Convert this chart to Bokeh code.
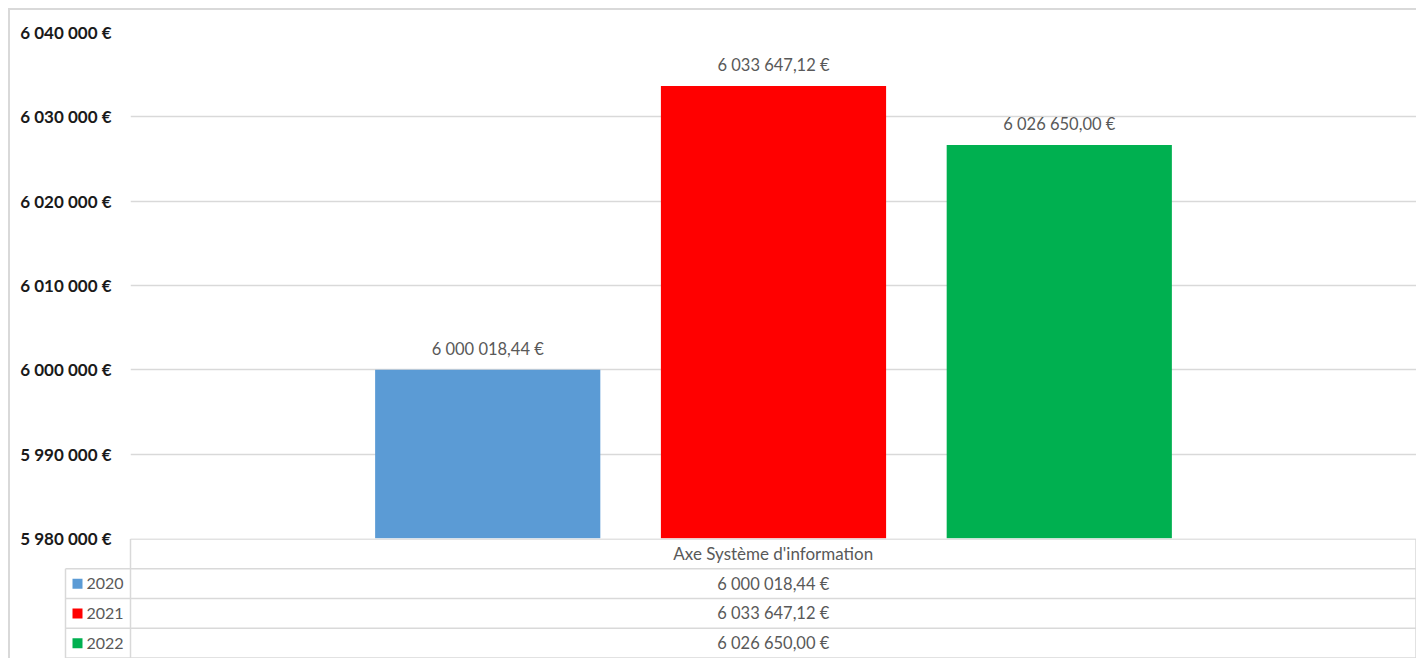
from bokeh.plotting import figure
from bokeh.models import Range1d, FactorRange, FixedTicker, ColumnDataSource
from bokeh.layouts import column
from bokeh.embed import file_html
from bokeh.resources import INLINE
from bokeh.core.properties import value

# ---- data ----
category = "Axe Système d'information"
years = ["2020", "2021", "2022"]
amounts = [6000018.44, 6033647.12, 6026650.00]
colors = ["#5B9BD5", "#FF0000", "#00B050"]
y_ticks = [5980000, 5990000, 6000000, 6010000, 6020000, 6030000, 6040000]


def fmt(v, dec):
    s = f"{v:,.{dec}f}".replace(",", " ").replace(".", ",")
    return s + " €"


labels = [fmt(v, 2) for v in amounts]
tick_labels = {t: fmt(t, 0) for t in y_ticks}

FONT = value("Lato")
GRAY = "#595959"
LINE = "#D9D9D9"

# ---- chart ----
src = ColumnDataSource(dict(year=years, amount=amounts, color=colors, label=labels))

p = figure(width=1406, height=540,
           x_range=FactorRange(factors=years, range_padding=0.5, range_padding_units="percent"),
           y_range=Range1d(y_ticks[0], y_ticks[-1]),
           output_backend="svg", toolbar_location=None,
           min_border_left=120, min_border_right=0, min_border_top=22, min_border_bottom=12)
p.frame_align = False
p.xaxis.visible = False
p.xgrid.visible = False
p.outline_line_color = None
p.background_fill_color = "white"
p.border_fill_color = "white"

ax = p.yaxis[0]
ax.ticker = FixedTicker(ticks=y_ticks)
ax.major_label_overrides = tick_labels
ax.axis_line_color = None
ax.major_tick_line_color = None
ax.minor_tick_line_color = None
ax.major_tick_in = 0
ax.major_tick_out = 0
ax.major_label_standoff = 19
ax.major_label_text_font = "Lato"
ax.major_label_text_font_style = "bold"
ax.major_label_text_font_size = "17px"
ax.major_label_text_color = "#1A1A1A"

p.ygrid.grid_line_color = LINE
p.ygrid.grid_line_width = 1.5

p.vbar(x="year", top="amount", bottom=y_ticks[0], width=0.788, color="color",
       line_color=None, source=src)
p.text(x="year", y="amount", text="label", source=src, text_align="center",
       text_baseline="bottom", y_offset=-11, text_font=FONT,
       text_font_size="16.5px", text_color=GRAY)

# ---- data table ----
ROW_H = 29.75
T_H = 120
x_key = 55     # left edge of legend column
x_val = 120    # left edge of value column
x_end = 1405.5 # right edge
rows = [category] + years

t = figure(width=1406, height=T_H, x_range=Range1d(0, 1406),
           y_range=Range1d(T_H / ROW_H - 0.02, -0.02),
           x_axis_type=None, y_axis_type=None,
           output_backend="svg", toolbar_location=None,
           min_border=0, margin=(-12, 0, 0, 0))
t.frame_align = False
t.xgrid.visible = False
t.ygrid.visible = False
t.outline_line_color = None
t.background_fill_alpha = 0
t.border_fill_alpha = 0

n = len(rows)
hx0 = [x_val] + [x_key] * (n)
hx1 = [x_end] * (n + 1)
hy = list(range(n + 1))
t.segment(x0=hx0, y0=hy, x1=hx1, y1=hy, line_color=LINE, line_width=1.5)
t.segment(x0=[x_key, x_val, x_end], y0=[1, 0, 0], x1=[x_key, x_val, x_end],
          y1=[n, n, n], line_color=LINE, line_width=1.5)

x_mid = (x_val + x_end) / 2
t.text(x=[x_mid], y=[0.5], text=[category], text_align="center",
       text_baseline="middle", text_font=FONT, text_font_size="17px",
       text_color=GRAY)
tsrc = ColumnDataSource(dict(
    x=[x_mid] * len(labels),
    y=[i + 1.5 for i in range(len(labels))],
    text=labels,
))
t.text(x="x", y="y", text="text", source=tsrc, text_align="center",
       text_baseline="middle", text_font=FONT, text_font_size="16.5px",
       text_color=GRAY)

ksrc = ColumnDataSource(dict(
    x=[x_key + 12] * len(years),
    tx=[x_key + 21] * len(years),
    y=[i + 1.5 for i in range(len(years))],
    year=years, color=colors,
))
t.scatter(x="x", y="y", source=ksrc, marker="square", size=10,
          fill_color="color", line_color=None)
t.text(x="tx", y="y", text="year", source=ksrc, text_align="left",
       text_baseline="middle", text_font=FONT, text_font_size="16px",
       text_color=GRAY)

layout = column(p, t, spacing=0, margin=(8, 0, 0, 8),
                styles={"border-left": "2px solid #D9D9D9",
                        "border-top": "2px solid #D9D9D9"})

open("out.html", "w").write(file_html(layout, INLINE))
